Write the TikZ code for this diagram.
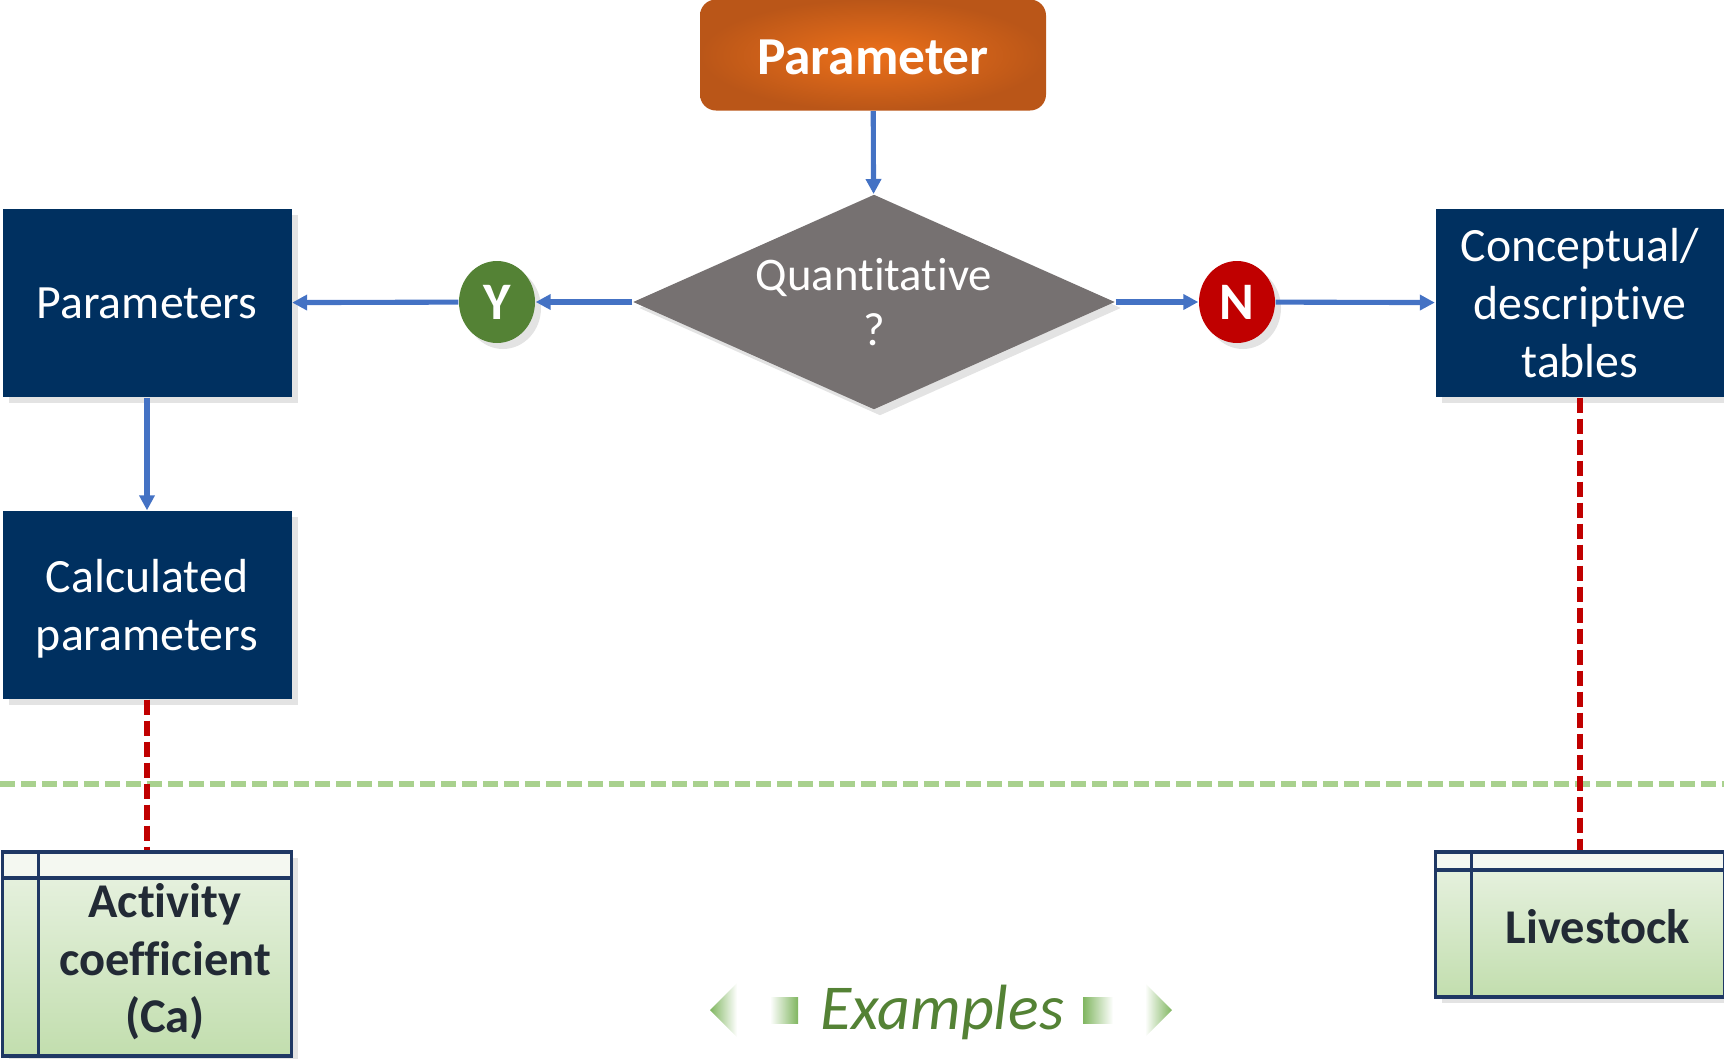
\documentclass[tikz,border=0pt]{standalone}
\usepackage{fontspec}
\setmainfont{Carlito}[Ligatures={NoCommon,NoRequired,NoContextual}]
\usetikzlibrary{shapes.geometric, arrows.meta, shadows}
\definecolor{navybox}{RGB}{0,48,96}
\definecolor{flowblue}{RGB}{68,114,196}
\definecolor{diagray}{RGB}{118,113,113}
\definecolor{yesgreen}{RGB}{84,130,53}
\definecolor{nored}{RGB}{192,0,0}
\definecolor{orangein}{RGB}{236,112,26}
\definecolor{orangeout}{RGB}{186,86,24}
\definecolor{sepgreen}{RGB}{169,209,142}
\definecolor{decogreen}{RGB}{128,182,96}
\definecolor{tabhead}{RGB}{244,248,241}
\definecolor{tabtop}{RGB}{234,243,228}
\definecolor{tabbot}{RGB}{194,222,174}
\definecolor{tabline}{RGB}{31,56,100}
\definecolor{tabtextcol}{RGB}{34,42,53}

\begin{document}
\begin{tikzpicture}[x=0.1mm, y=-0.1mm,
    bodyfont/.style={font=\fontsize{13.6}{16.4}\selectfont},
    softshadow/.style={drop shadow={shadow xshift=0.6mm, shadow yshift=-0.6mm, opacity=0.22}},
    topbox/.style={rectangle, rounded corners=1.6mm, inner color=orangein, outer color=orangeout,
      text=white, minimum width=34.6mm, minimum height=11.1mm, inner sep=0pt, text height=4.0mm,
      font=\fontsize{15.2}{18}\selectfont\bfseries},
    decision/.style={diamond, aspect=2.24, fill=diagray, text=white, minimum width=48.2mm,
      minimum height=21.5mm, inner sep=0pt, align=center, softshadow,
      font=\fontsize{13.3}{15.8}\selectfont},
    bluebox/.style={rectangle, fill=navybox, text=white, minimum width=28.9mm, minimum height=18.8mm,
      align=center, inner sep=0pt, text depth=0pt, bodyfont, softshadow},
    yn/.style={ellipse, minimum width=7.6mm, minimum height=8.2mm, inner sep=0pt, text=white,
      font=\fontsize{15}{18}\selectfont\bfseries, softshadow},
    flow/.style={draw=flowblue, line width=1.45pt, -{Triangle[length=1.5mm, width=1.5mm]}},
    link/.style={draw=nored, line width=1.8pt, dash pattern=on 1.5mm off 0.6mm},
    sepline/.style={draw=sepgreen, line width=1.6pt, dash pattern=on 1.5mm off 0.6mm},
    tablebox/.style={rectangle, draw=tabline, line width=1pt, top color=tabtop, bottom color=tabbot,
      minimum width=28.9mm, inner sep=0pt, softshadow,
      path picture={
        \fill[tabhead] (path picture bounding box.north west) rectangle ([yshift=-#1]path picture bounding box.north east);
        \draw[tabline, line width=1pt] ([yshift=-#1]path picture bounding box.north west) -- ([yshift=-#1]path picture bounding box.north east);
        \draw[tabline, line width=1pt] ([xshift=3.6mm]path picture bounding box.north west) -- ([xshift=3.6mm]path picture bounding box.south west);
      }},
    tabtext/.style={align=center, text=tabtextcol, font=\fontsize{13.8}{16.4}\selectfont\bfseries}]
  \useasboundingbox (0,0) rectangle (1724,1058);

  \node[topbox] (param) at (873,55) {Parameter};
  \node[decision] (quant) at (874,302) {Quantitative\\?};
  \node[bluebox] (params) at (147,303) {Parameters};
  \node[bluebox] (calc) at (147,605) {Calculated\\parameters};
  \node[bluebox] (concept) at (1580,303) {Conceptual/\\descriptive\\tables};
  \node[yn, fill=yesgreen] (yes) at (497,302) {Y};
  \node[yn, fill=nored] (no) at (1237,302) {N};

  \draw[flow] (param) -- (quant);
  \draw[flow] (quant) -- (yes);
  \draw[flow] (yes) -- (params);
  \draw[flow] (quant) -- (no);
  \draw[flow] (no) -- (concept);
  \draw[flow] (params) -- (calc);

  \draw[sepline] (0,784) -- (1724,784);

  \node[tablebox=2.6mm, minimum height=20.4mm] (act) at (147,954) {};
  \node[tablebox=1.8mm, minimum height=14.5mm] (live) at (1580,924.5) {};
  \node[tabtext] (actlbl) at (165,962) {Activity\\coefficient\\(Ca)};
  \node[tabtext] (livelbl) at (1598,927) {Livestock};

  \draw[link] (calc) -- (act);
  \draw[link] (concept) -- (live);

  \shade[left color=decogreen, right color=white] (710,1010) -- (737,983) -- (737,1037) -- cycle;
  \shade[left color=white, right color=decogreen] (770,997) rectangle (798,1023);
  \shade[left color=decogreen, right color=white] (1083,997) rectangle (1113,1023);
  \shade[left color=white, right color=decogreen] (1172,1010) -- (1145,983) -- (1145,1037) -- cycle;
  \node[text=yesgreen, font=\fontsize{18.2}{22}\selectfont\itshape] (examples) at (942,1012) {Examples};
\end{tikzpicture}
\end{document}
